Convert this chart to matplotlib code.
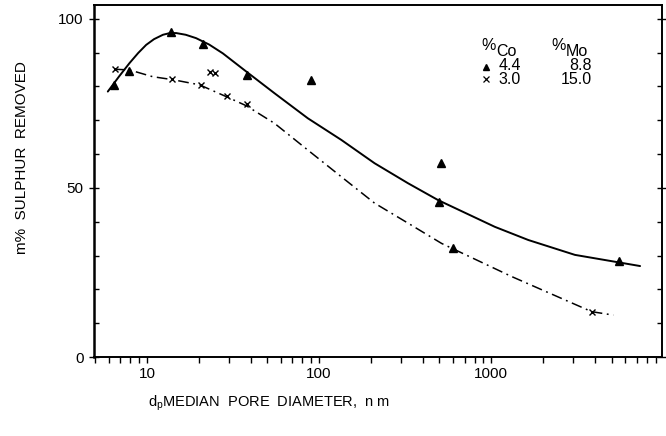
import matplotlib
matplotlib.use("Agg")
import matplotlib.pyplot as plt
from matplotlib.ticker import FixedLocator, NullFormatter

plt.rcParams['font.family'] = ['Liberation Sans', 'DejaVu Sans']
plt.rcParams['mathtext.default'] = 'regular'

# Measured points: catalyst with 4.4 % Co / 8.8 % Mo (triangles)
co44_diam = [6.4, 7.85, 13.8, 21.1, 38.1, 89.3, 498, 509, 601, 5510]
co44_removed = [80.5, 84.6, 96.2, 92.5, 83.4, 82.0, 45.9, 57.3, 32.2, 28.4]

# Measured points: catalyst with 3.0 % Co / 15.0 % Mo (crosses)
co30_diam = [6.56, 14.0, 20.7, 23.3, 24.9, 29.2, 38.1, 3830]
co30_removed = [85.2, 82.2, 80.5, 84.4, 83.9, 77.2, 74.9, 13.4]

# Fitted trend curves
fit44_diam = [5.93, 6.9, 7.92, 8.9, 9.9, 11.0, 12.4, 13.6, 14.8, 16.8, 19.3, 23.0,
              27.6, 37.8, 55.1, 86, 134.6, 210, 328, 491, 1048, 1640, 3060, 7310]
fit44_removed = [78.5, 83.0, 86.9, 89.9, 92.3, 94.0, 95.3, 95.8, 95.8, 95.3, 94.3, 92.4,
                 89.8, 84.4, 78.0, 70.6, 64.2, 57.3, 51.4, 46.4, 38.5, 34.6, 30.2, 26.9]

fit30_diam = [6.48, 7.92, 10.8, 14.2, 20.2, 28.9, 37.8, 55.1, 86, 134.6, 210, 328,
              514, 1312, 3830, 5110]
fit30_removed = [85.1, 84.9, 82.9, 82.0, 80.5, 77.0, 74.3, 69.1, 61.2, 53.3, 45.5, 39.6,
                 33.6, 23.8, 13.4, 12.4]

x_ticks = [10, 100, 1000]
x_tick_labels = ['10', '100', '1000']
y_ticks = [0, 50, 100]

W, H = 666, 436
fig = plt.figure(figsize=(W / 100, H / 100), dpi=100)
ax_l, ax_r, ax_b, ax_t = 94, 662, 357, 5
ax = fig.add_axes([ax_l / W, 1 - ax_b / H, (ax_r - ax_l) / W, (ax_b - ax_t) / H])

ax.set_xscale('log')
ax.set_xlim(4.93, 9800)
ax.set_ylim(0, 104.1)

ax.plot(fit44_diam, fit44_removed, color='black', lw=1.4, solid_capstyle='round')
ax.plot(fit30_diam, fit30_removed, color='black', lw=1.1, dashes=(7, 3, 1.2, 3))
ax.plot(co44_diam, co44_removed, linestyle='none', marker='^', ms=5.2, color='black')
ax.plot(co30_diam, co30_removed, linestyle='none', marker='x', ms=4, mew=1.0, color='black')

for s in ax.spines.values():
    s.set_linewidth(1.4)
ax.spines['left'].set_linewidth(1.8)

ax.xaxis.set_major_locator(FixedLocator(x_ticks))
ax.set_xticklabels(x_tick_labels)
minor_x = [m * 10 ** e for e in range(0, 4) for m in range(2, 10) if 4.93 <= m * 10 ** e <= 9800]
ax.xaxis.set_minor_locator(FixedLocator(minor_x))
ax.xaxis.set_minor_formatter(NullFormatter())
ax.tick_params(axis='x', which='both', direction='out', length=4, width=1.0,
               labelsize=11, pad=3)

ax.yaxis.set_major_locator(FixedLocator(y_ticks))
ax.yaxis.set_minor_locator(FixedLocator([10, 20, 30, 40, 60, 70, 80, 90]))
ax.yaxis.set_minor_formatter(NullFormatter())
ax.tick_params(axis='y', which='major', direction='inout', length=7, width=1.0,
               labelsize=11, pad=4, right=True)
ax.tick_params(axis='y', which='minor', direction='in', length=3.5, width=1.0, right=True)

# Axis titles
fig.text(22 / W, 1 - 158 / H, 'm%  SULPHUR  REMOVED', rotation=90,
         ha='center', va='center', fontsize=11)
fig.text(269 / W, 1 - 403 / H, r'd$_p$MEDIAN  PORE  DIAMETER,  n m',
         ha='center', va='center', fontsize=10.5)

# Composition key
def px(x, y):
    return x / W, 1 - y / H

kw = dict(transform=fig.transFigure, fontsize=11.5, va='center')
fig.text(*px(481, 46), '%', ha='left', **kw)
fig.text(*px(496, 51), 'Co', ha='left', **kw)
fig.text(*px(551, 46), '%', ha='left', **kw)
fig.text(*px(566, 51), 'Mo', ha='left', **kw)
fig.text(*px(521, 65), '4.4', ha='right', **kw)
fig.text(*px(592, 65), '8.8', ha='right', **kw)
fig.text(*px(521, 79), '3.0', ha='right', **kw)
fig.text(*px(592, 79), '15.0', ha='right', **kw)
fig.lines.append(plt.Line2D([486 / W], [1 - 67 / H], marker='^', ms=4, color='black',
                            transform=fig.transFigure))
fig.lines.append(plt.Line2D([486 / W], [1 - 79 / H], marker='x', ms=4.5, mew=0.9,
                            color='black', transform=fig.transFigure))

fig.savefig('out.png', dpi=100)
